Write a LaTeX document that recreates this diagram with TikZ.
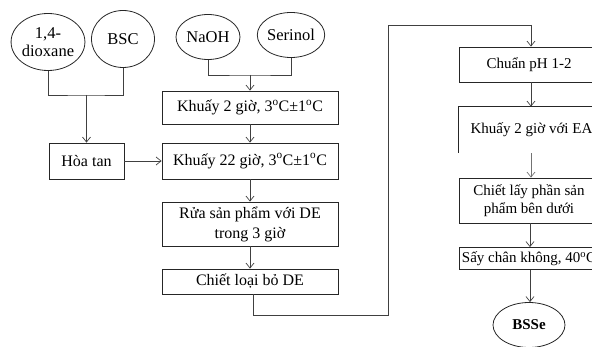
\documentclass[tikz,border=0pt]{standalone}
\usepackage{fontspec}
\setmainfont{Liberation Serif}
\usetikzlibrary{shapes.geometric,arrows.meta}
\begin{document}
\begin{tikzpicture}[x=1pt,y=1pt,
 txt/.style={font=\fontsize{16}{20}\selectfont},
 box/.style={txt,draw=black!85,rectangle,line width=0.8pt,inner sep=0pt,align=center,minimum width=176pt},
 rbox/.style={box,minimum width=140pt,font=\fontsize{15}{19}\selectfont},
 oval/.style={draw=black!85,ellipse,line width=0.8pt,inner sep=0pt,align=center,font=\fontsize{16.5}{18.5}\selectfont},
 arr/.style={draw=black!75,-{Straight Barb[length=5pt,width=8pt]},line width=0.7pt},
 ln/.style={draw=black!75,line width=0.7pt}]
\useasboundingbox (0,0) rectangle (592,-347);
% ellipses
\node[oval,minimum width=70pt,minimum height=57pt] (diox) at (48,-42) {1,4-\\dioxane};
\node[oval,minimum width=63pt,minimum height=57pt] (bsc) at (123,-39) {BSC};
\node[oval,minimum width=64pt,minimum height=45pt] (naoh) at (208,-37) {NaOH};
\node[oval,minimum width=64pt,minimum height=45pt] (ser) at (291,-35) {Serinol};
% left column
\node[box,minimum width=75pt,minimum height=36pt] (hoa) at (86.5,-161) {Hòa tan};
\node[box,minimum height=33pt] (k2) at (250,-107.5) {Khuấy 2 giờ, 3\textsuperscript{o}C±1\textsuperscript{o}C};
\node[box,minimum height=36pt] (k22) at (250,-161) {Khuấy 22 giờ, 3\textsuperscript{o}C±1\textsuperscript{o}C};
\node[box,minimum height=44pt] (rua) at (250,-224) {Rửa sản phẩm với DE\\trong 3 giờ};
\node[box,minimum height=25pt] (chiet) at (250,-281.5) {Chiết loại bỏ DE};
% right column
\node[rbox,minimum height=35pt] (chuan) at (529,-64.5) {Chuẩn pH 1-2};
\node[rbox,draw=none,minimum height=46pt] (ea) at (529,-130) {\hspace*{5pt}Khuấy 2 giờ với EA};
\draw[draw=black!85,line width=0.8pt] (ea.north east) -- (ea.north west) -- (ea.south west);
\node[rbox,minimum height=45pt,font=\fontsize{15}{18.5}\selectfont] (lay) at (529,-200.5) {Chiết lấy phần sản\\phẩm bên dưới};
\node[rbox,minimum height=22pt] (say) at (529,-258.5) {Sấy chân không, 40\textsuperscript{o}C};
\node[oval,minimum width=72pt,minimum height=45pt,font=\fontsize{15}{18}\selectfont\bfseries] (bsse) at (529,-325) {BSSe};
% helper coordinates
\coordinate (j1) at (86.5,-95);
\coordinate (j2) at (250,-75);
\coordinate (c1) at (253,-315);
\coordinate (c2) at (388,-315);
\coordinate (c3) at (388,-25);
\coordinate (c4) at (531,-25);
% connectors
\draw[ln] (diox.south) |- (j1) -| (bsc.south);
\draw[arr] (j1) -- (hoa.north);
\draw[ln] (naoh.south) |- (j2) -| (ser.south);
\draw[arr] (j2) -- (k2.north);
\draw[arr] (k2.south) -- (k22.north);
\draw[arr] (hoa.east) -- (k22.west);
\draw[arr] (k22.south) -- (rua.north);
\draw[arr] (rua.south) -- (chiet.north);
\draw[ln] (chiet.south -| c1) -- (c1) -- (c2) -- (c3) -- (c4);
\draw[arr] (c4) -- (c4 |- chuan.north);
\draw[arr] ([xshift=2pt]chuan.south) -- ([xshift=2pt]ea.north);
\draw[arr,draw=black!55] ([xshift=2pt]ea.south) -- ([xshift=2pt]lay.north);
\draw[arr] ([xshift=1pt]lay.south) -- ([xshift=1pt]say.north);
\draw[arr] ([xshift=1pt]say.south) -- ([xshift=1pt]bsse.north);
\end{tikzpicture}
\end{document}
